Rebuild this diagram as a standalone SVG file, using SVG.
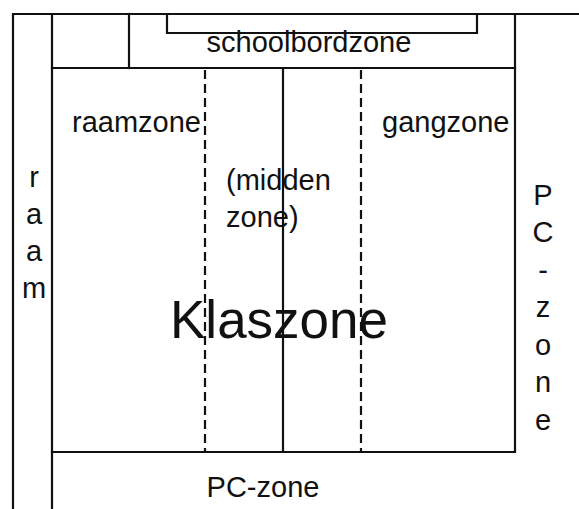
<svg xmlns="http://www.w3.org/2000/svg" width="579" height="509" viewBox="0 0 579 509">
<style>
.ln{stroke:#111;stroke-width:2.2;fill:none;stroke-linecap:square}
.dash{stroke:#111;stroke-width:2.2;fill:none;stroke-dasharray:9,5}
.t{font-family:"Liberation Sans",Arial,sans-serif;font-size:29px;fill:#111}
.big{font-family:"Liberation Sans",Arial,sans-serif;font-size:53px;fill:#111}
.mid{text-anchor:middle}
</style>
<rect width="579" height="509" fill="#fff"/>
<g id="connectors">
<path class="ln" d="M13,509 V14 H579"/>
<path class="ln" d="M52,509 V14"/>
<path class="ln" d="M129,14 V68"/>
<path class="ln" d="M167,14 V33 H477 V14"/>
<path class="ln" d="M52,68 H515"/>
<path class="ln" d="M515,14 V452 H52"/>
<path class="ln" d="M283,68 V452"/>
<path class="dash" d="M205,70 V452"/>
<path class="dash" d="M361,70 V452"/>
</g>
<g id="schoolbordzone"><text class="t mid" x="309" y="52">schoolbordzone</text></g>
<g id="raamzone"><text class="t" x="72" y="132">raamzone</text></g>
<g id="gangzone"><text class="t" x="382" y="132">gangzone</text></g>
<g id="middenzone"><text class="t" x="226" y="190">(midden</text><text class="t" x="226" y="227">zone)</text></g>
<g id="klaszone"><text class="big" x="170" y="338">Klaszone</text></g>
<g id="raam">
<text class="t mid" x="34" y="187">r</text>
<text class="t mid" x="34" y="224">a</text>
<text class="t mid" x="34" y="261">a</text>
<text class="t mid" x="34" y="298">m</text>
</g>
<g id="pc-zone-right">
<text class="t mid" x="543" y="205">P</text>
<text class="t mid" x="543" y="242">C</text>
<text class="t mid" x="543" y="280">-</text>
<text class="t mid" x="543" y="317">z</text>
<text class="t mid" x="543" y="355">o</text>
<text class="t mid" x="543" y="392">n</text>
<text class="t mid" x="543" y="430">e</text>
</g>
<g id="pc-zone-bottom"><text class="t mid" x="263" y="497">PC-zone</text></g>
</svg>
